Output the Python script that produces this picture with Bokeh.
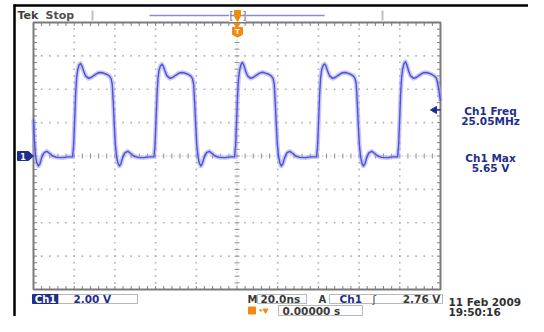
import numpy as np
from bokeh.plotting import figure
from bokeh.models import Range1d
from bokeh.core.properties import value
from bokeh.embed import file_html
from bokeh.resources import INLINE

# ---------------- data ----------------
# Ch1 trace: time (ns, 0 = trigger) and voltage (V), cycle by cycle
t_c0 = [-100.0, -99.6, -99.0, -98.4, -97.6, -96.8, -96.0, -94.8, -93.4, -92.0,
        -90.6, -88.6, -85.6, -83.1]
v_c0 = [2.2, 1.0, 0.0, -0.4, -0.6, -0.45, -0.1, 0.2, 0.28, 0.15,
        0.0, -0.08, -0.1, -0.05]

t_c1 = [-80.8, -80.3, -79.8, -79.3, -78.8, -78.3, -77.6, -76.9, -76.2, -75.4,
        -74.4, -72.9, -71.5, -70.0, -68.5, -67.0, -65.6, -64.1, -62.8, -61.9,
        -61.3, -60.8, -60.3, -59.8, -59.2, -58.6, -57.8, -57.0, -56.2, -55.0,
        -53.6, -52.2, -50.8, -48.8, -45.8, -43.3]
v_c1 = [-0.05, 0.6, 2.1, 3.7, 4.7, 5.15, 5.45, 5.55, 5.4, 5.1,
        4.8, 4.65, 4.72, 4.85, 4.97, 5.0, 4.97, 4.9, 4.8, 4.65,
        4.3, 3.2, 1.9, 0.7, 0.0, -0.4, -0.6, -0.45, -0.1, 0.2,
        0.28, 0.15, 0.0, -0.08, -0.1, -0.05]

t_c2 = [-40.8, -40.3, -39.8, -39.3, -38.8, -38.3, -37.6, -36.9, -36.2, -35.4,
        -34.4, -32.9, -31.5, -30.0, -28.5, -27.0, -25.6, -24.1, -22.8, -21.9,
        -21.3, -20.8, -20.3, -19.8, -19.2, -18.6, -17.8, -17.0, -16.2, -15.0,
        -13.6, -12.2, -10.8, -8.8, -5.8, -3.3]
v_c2 = [-0.05, 0.6, 2.1, 3.7, 4.7, 5.15, 5.4, 5.5, 5.38, 5.1,
        4.8, 4.65, 4.72, 4.85, 4.97, 5.0, 4.97, 4.9, 4.8, 4.65,
        4.3, 3.2, 1.9, 0.7, 0.0, -0.4, -0.6, -0.45, -0.1, 0.2,
        0.28, 0.15, 0.0, -0.08, -0.1, -0.05]

t_c3 = [-1.2, -0.7, -0.2, 0.3, 0.8, 1.3, 2.0, 2.7, 3.4, 4.2,
        5.2, 6.7, 8.1, 9.6, 11.1, 12.6, 14.0, 15.5, 16.8, 17.7,
        18.3, 18.8, 19.3, 19.8, 20.4, 21.0, 21.8, 22.6, 23.4, 24.6,
        26.0, 27.4, 28.8, 30.8, 33.8, 36.3]
v_c3 = [-0.05, 0.6, 2.1, 3.7, 4.7, 5.15, 5.5, 5.6, 5.42, 5.1,
        4.8, 4.65, 4.72, 4.85, 4.97, 5.02, 4.97, 4.9, 4.8, 4.65,
        4.3, 3.2, 1.9, 0.7, 0.0, -0.4, -0.6, -0.45, -0.1, 0.2,
        0.28, 0.15, 0.0, -0.08, -0.1, -0.05]

t_c4 = [39.1, 39.6, 40.1, 40.6, 41.1, 41.6, 42.3, 43.0, 43.7, 44.5,
        45.5, 47.0, 48.4, 49.9, 51.4, 52.9, 54.3, 55.8, 57.1, 58.0,
        58.6, 59.1, 59.6, 60.1, 60.7, 61.3, 62.1, 62.9, 63.7, 64.9,
        66.3, 67.7, 69.1, 71.1, 74.1, 76.6]
v_c4 = [-0.05, 0.6, 2.1, 3.7, 4.7, 5.15, 5.42, 5.52, 5.4, 5.1,
        4.8, 4.65, 4.72, 4.85, 4.97, 5.0, 4.97, 4.9, 4.8, 4.65,
        4.3, 3.2, 1.9, 0.7, 0.0, -0.4, -0.6, -0.45, -0.1, 0.2,
        0.28, 0.15, 0.0, -0.08, -0.1, -0.05]

t_c5 = [78.9, 79.4, 79.9, 80.4, 80.9, 81.4, 82.1, 82.8, 83.5, 84.3,
        85.3, 86.8, 88.2, 89.7, 91.2, 92.7, 94.1, 95.6, 96.9, 97.8,
        98.4, 99.0, 99.5, 100.0]
v_c5 = [-0.05, 0.6, 2.1, 3.7, 4.7, 5.2, 5.55, 5.65, 5.45, 5.1,
        4.8, 4.65, 4.72, 4.85, 4.97, 5.0, 4.97, 4.9, 4.8, 4.7,
        4.5, 4.1, 3.7, 3.3]

t_ns = t_c0 + t_c1 + t_c2 + t_c3 + t_c4 + t_c5
v_volts = v_c0 + v_c1 + v_c2 + v_c3 + v_c4 + v_c5

NS_PER_DIV = 20.0
V_PER_DIV = 2.0
N_XDIV = 10
N_YDIV = 8
trig_level_v = 2.76

ch1_label = "Ch1"
ch1_scale = "2.00 V"
time_scale = "20.0ns"
trig_source = "Ch1"
trig_level_txt = "2.76 V"
trig_pos_txt = "0.00000 s"
meas_names = ["Ch1 Freq", "Ch1 Max"]
meas_values = ["25.05MHz", "5.65 V"]
date_txt = "11 Feb  2009"
clock_txt = "19:50:16"

# ---------------- layout (screen pixels -> data) ----------------
CX, CY = 236.5, 155.5          # graticule centre in pixels
PXNS = 40.7 / NS_PER_DIV       # px per ns
PXV = 33.375 / V_PER_DIV       # px per V
W, H = 528, 316


def tx(px):
    return (np.asarray(px, dtype=float) - CX) / PXNS


def vy(py):
    return (CY - np.asarray(py, dtype=float)) / PXV


p = figure(width=W, height=H, x_range=Range1d(float(tx(0)), float(tx(W))),
           y_range=Range1d(float(vy(H)), float(vy(0))),
           min_border=0, toolbar_location=None, output_backend="svg",
           x_axis_type=None, y_axis_type=None)
p.outline_line_color = None
p.background_fill_color = "white"
p.border_fill_color = "white"

FONT = value("DejaVu Sans")
NAVY = "#1f2e8c"
DARK = "#3a3a3a"
ORANGE = "#f08a10"


def txt(xp, yp, s, color, size="10px", align="left", bold=True):
    p.text(x=[float(tx(xp))], y=[float(vy(yp))], text=[s], text_color=color,
           text_font=FONT, text_font_size=size,
           text_font_style="bold" if bold else "normal",
           text_align=align, text_baseline="middle")


def box(x0, y0, x1, y1, line_color="#b8b8b8", fill_color=None):
    p.quad(left=float(tx(x0)), right=float(tx(x1)), top=float(vy(y0)),
           bottom=float(vy(y1)), line_color=line_color, line_width=1,
           fill_color=fill_color if fill_color else "white",
           fill_alpha=1.0 if fill_color else 0.0)


def seg(x0, y0, x1, y1, color, width=1.0):
    p.line(x=[float(tx(x0)), float(tx(x1))], y=[float(vy(y0)), float(vy(y1))],
           line_color=color, line_width=width)


# outer black frame lines
seg(13, 5, 544, 5, "black", 2.5)
seg(14, 4, 14, 332, "black", 2.5)

# ---------------- graticule ----------------
xmin, xmax = -NS_PER_DIV * N_XDIV / 2, NS_PER_DIV * N_XDIV / 2
ymin, ymax = -V_PER_DIV * N_YDIV / 2, V_PER_DIV * N_YDIV / 2
sub_t = NS_PER_DIV / 5
sub_v = V_PER_DIV / 5

# dotted grid
gx, gy = [], []
for k in range(1, N_YDIV):
    v = ymin + k * V_PER_DIV
    if abs(v) < 1e-9:
        continue
    for t in np.arange(xmin + sub_t, xmax, sub_t):
        gx.append(t); gy.append(v)
for k in range(1, N_XDIV):
    t = xmin + k * NS_PER_DIV
    if abs(t) < 1e-9:
        continue
    for v in np.arange(ymin + sub_v, ymax - 1e-9, sub_v):
        gx.append(t); gy.append(v)
p.scatter(gx, gy, marker="square", size=1.6, fill_color="#b0b0b0",
          line_color=None)

# centre lines with cross ticks
p.line([xmin, xmax], [0, 0], line_color="#c8c8c8", line_width=1, line_dash="2 2")
p.line([0, 0], [ymin, ymax], line_color="#c8c8c8", line_width=1, line_dash="2 2")
ct = np.arange(xmin + sub_t, xmax, sub_t)
cv = np.arange(ymin + sub_v, ymax - 1e-9, sub_v)
p.segment(x0=ct, y0=-2.5 / PXV, x1=ct, y1=2.5 / PXV, line_color="#909090", line_width=1)
p.segment(x0=-2.5 / PXNS, y0=cv, x1=2.5 / PXNS, y1=cv, line_color="#909090", line_width=1)

# border ticks
tl = 3.5
p.segment(x0=ct, y0=ymax, x1=ct, y1=ymax - tl / PXV, line_color="#808080", line_width=1)
p.segment(x0=ct, y0=ymin, x1=ct, y1=ymin + tl / PXV, line_color="#808080", line_width=1)
p.segment(x0=xmin, y0=cv, x1=xmin + tl / PXNS, y1=cv, line_color="#808080", line_width=1)
p.segment(x0=xmax, y0=cv, x1=xmax - tl / PXNS, y1=cv, line_color="#808080", line_width=1)

# border
p.quad(left=xmin, right=xmax, bottom=ymin, top=ymax, fill_alpha=0,
       line_color="#7a7a7a", line_width=2)

# ---------------- trace ----------------
p.line(t_ns, v_volts, line_color="#a4a4f4", line_width=4.5, line_alpha=0.6,
       line_join="round")
p.line(t_ns, v_volts, line_color="#5050d8", line_width=1.4, line_join="round")

# ---------------- markers ----------------
# ground marker "1"
p.patch(x=tx([17, 28, 33, 28, 17]), y=vy([151, 151, 155.5, 160, 160]),
        fill_color=NAVY, line_color=NAVY)
txt(22.5, 155.8, "1", "white", size="8px", align="center")

# trigger level arrow (right edge)
p.scatter([float(tx(434))], [trig_level_v], marker="triangle", angle=np.pi / 2,
          size=7, fill_color=NAVY, line_color=NAVY)
seg(434, 109.4, 440, 109.4, NAVY, 1.5)

# trigger position marker (top of graticule)
p.scatter([0.0], [float(vy(24.5))], marker="inverted_triangle", size=6,
          fill_color=ORANGE, line_color=ORANGE)
p.patch(x=tx([232, 242, 242, 237, 232]), y=vy([27, 27, 34, 36.5, 34]),
        fill_color=ORANGE, line_color=ORANGE)
txt(237, 31, "T", "white", size="7px", align="center")

# record bar at top
seg(149, 15, 324, 15, "#8c8ccc", 1.5)
seg(92, 10, 92, 20, "#c0c0c0", 2)
seg(382, 10, 382, 20, "#c0c0c0", 2)
box(229, 10, 245, 21, line_color="white")
txt(229, 15, "[", "#707070", size="10px", align="left", bold=False)
txt(246, 15, "]", "#707070", size="10px", align="right", bold=False)
p.scatter([float(tx(237))], [float(vy(13))], marker="square", size=6,
          fill_color=ORANGE, line_color=ORANGE)
p.scatter([float(tx(237))], [float(vy(18))], marker="inverted_triangle", size=5,
          fill_color=ORANGE, line_color=ORANGE)

# status text
txt(17, 15, "Tek", "#404040", size="11px")
txt(45, 15, "Stop", "#505050", size="11px")

# ---------------- right measurement panel ----------------
txt(490, 110, meas_names[0], NAVY, size="10.5px", align="center")
txt(490, 120, meas_values[0], NAVY, size="10.5px", align="center")
txt(490, 157, meas_names[1], NAVY, size="10.5px", align="center")
txt(490, 167, meas_values[1], NAVY, size="10.5px", align="center")

# ---------------- bottom readouts ----------------
box(32, 294, 58, 303, line_color=NAVY, fill_color=NAVY)
txt(45, 298.8, ch1_label, "white", size="10px", align="center")
box(58, 294, 137, 303)
txt(73, 298.8, ch1_scale, NAVY, size="10.5px")

txt(247, 298.8, "M", DARK, size="10px")
box(257, 294, 306, 303)
txt(260, 298.8, time_scale, DARK, size="10.5px")

txt(318, 298.8, "A", DARK, size="10px")
box(329, 294, 442, 303)
txt(339, 298.8, trig_source, NAVY, size="10.5px")
txt(372, 298.8, "\u0283", DARK, size="10.5px", bold=False)
txt(440, 298.8, trig_level_txt, DARK, size="10.5px", align="right")

# second row (trigger position) - raised to fit the canvas
p.quad(left=float(tx(248)), right=float(tx(255)), top=float(vy(306.5)),
       bottom=float(vy(313.5)), fill_color=ORANGE, line_color=ORANGE)
txt(258, 310, "\u2022", ORANGE, size="7px")
p.scatter([float(tx(265))], [float(vy(310))], marker="inverted_triangle", size=5,
          fill_color=ORANGE, line_color=ORANGE)
box(278, 305, 362, 315)
txt(282, 310, trig_pos_txt, DARK, size="10.5px")

# date / time
txt(448, 301.5, date_txt, "#303030", size="10.5px")
txt(448, 311, clock_txt, "#303030", size="10.5px")

open("out.html", "w").write(file_html(p, INLINE))
